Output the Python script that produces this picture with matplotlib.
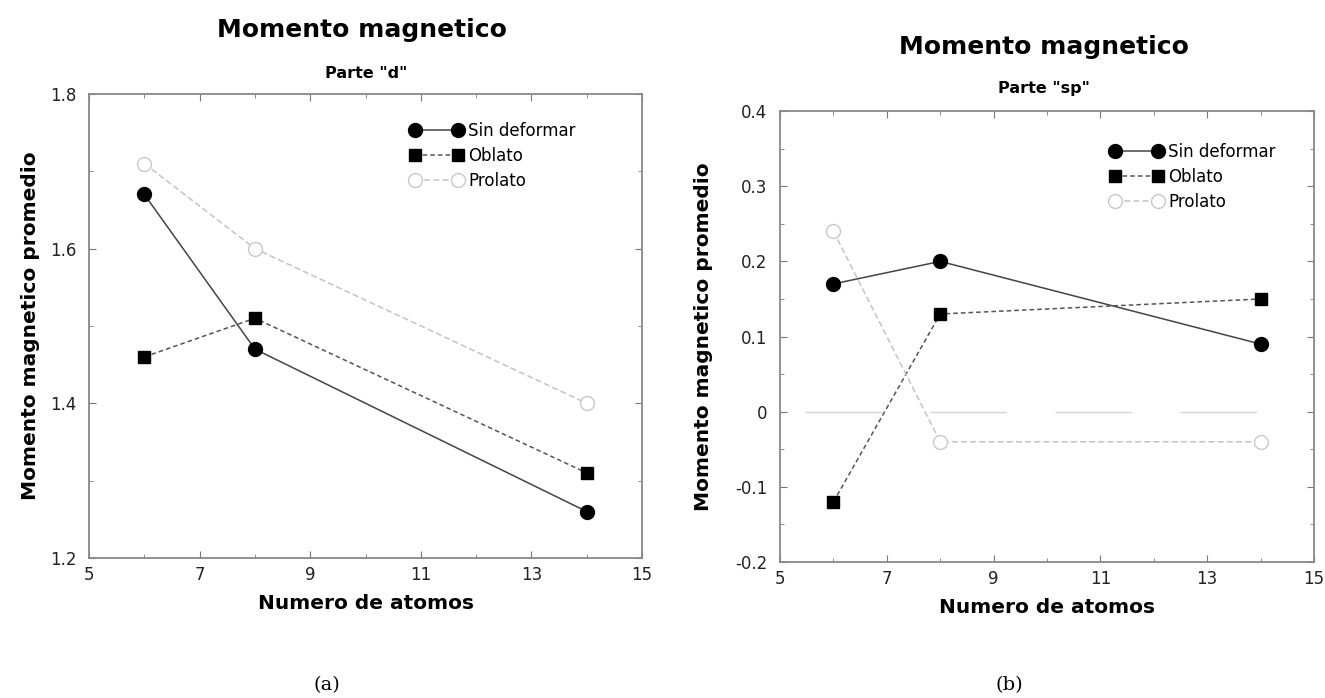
import numpy as np
import matplotlib
matplotlib.use("Agg")
from matplotlib import pyplot as plt
from matplotlib.ticker import FixedLocator

plt.rcParams['font.family'] = ['DejaVu Sans']

atoms = [6, 8, 14]
labels = ["Sin deformar", "Oblato", "Prolato"]
xticks_major = [5, 7, 9, 11, 13, 15]
xticks_minor = [6, 8, 10, 12, 14]

# parte "d"
d_sin = [1.67, 1.47, 1.26]
d_obl = [1.46, 1.51, 1.31]
d_pro = [1.71, 1.60, 1.40]

# parte "sp"
sp_sin = [0.17, 0.20, 0.09]
sp_obl = [-0.12, 0.13, 0.15]
sp_pro = [0.24, -0.04, -0.04]

fig = plt.figure(figsize=(13.25, 6.98), dpi=100)
ax1 = fig.add_axes([0.0672, 0.2006, 0.4174, 0.6648])
ax2 = fig.add_axes([0.5887, 0.1948, 0.4030, 0.6461])


def draw(ax, sin, obl, pro, leg_anchor, ypad):
    ax.plot(atoms, sin, color='#444444', lw=1.1, ls='-', marker='o', ms=10,
            mfc='black', mec='black', label=labels[0])
    ax.plot(atoms, obl, color='#555555', lw=1.1, ls=(0, (3, 2)), marker='s', ms=8,
            mfc='black', mec='black', label=labels[1])
    ax.plot(atoms, pro, color='#c4c4c4', lw=1.1, ls=(0, (4, 2)), marker='o', ms=10,
            mfc='white', mec='#c8c8c8', label=labels[2])
    ax.set_xlim(5, 15)
    ax.xaxis.set_major_locator(FixedLocator(xticks_major))
    ax.xaxis.set_minor_locator(FixedLocator(xticks_minor))
    ax.tick_params(which='both', direction='in', top=True, right=True, labelsize=12,
                   colors='#777777', labelcolor='#222222')
    ax.tick_params(axis='x', which='major', pad=6)
    ax.tick_params(axis='y', which='major', pad=9)
    ax.tick_params(which='major', length=5)
    ax.tick_params(which='minor', length=3)
    for s in ax.spines.values():
        s.set_color('#888888')
        s.set_linewidth(1.3)
    ax.set_xlabel("Numero de atomos", fontsize=14.5, fontweight='bold', labelpad=7)
    ax.set_ylabel("Momento magnetico promedio", fontsize=14.5, fontweight='bold', labelpad=ypad)
    ax.legend(loc='upper left', bbox_to_anchor=leg_anchor, numpoints=2, frameon=False,
              fontsize=12, handlelength=3.2, handletextpad=0.3, labelspacing=0.42,
              borderpad=0, borderaxespad=0)


draw(ax1, d_sin, d_obl, d_pro, (0.580, 0.94), 7)
ax1.set_ylim(1.2, 1.8)
ax1.yaxis.set_major_locator(FixedLocator([1.2, 1.4, 1.6, 1.8]))
ax1.yaxis.set_minor_locator(FixedLocator([1.3, 1.5, 1.7]))
ax1.yaxis.set_major_formatter(lambda v, p: f"{v:.1f}")

ax2.axhline(0, xmin=0.047, xmax=0.934, color='#d5d5d5', lw=1.0, ls=(0, (55, 35)), zorder=0)
draw(ax2, sp_sin, sp_obl, sp_pro, (0.618, 0.93), 16)
ax2.set_ylim(-0.2, 0.4)
ax2.yaxis.set_major_locator(FixedLocator([-0.2, -0.1, 0, 0.1, 0.2, 0.3, 0.4]))
ax2.yaxis.set_minor_locator(FixedLocator([-0.15, -0.05, 0.05, 0.15, 0.25, 0.35]))
ax2.yaxis.set_major_formatter(lambda v, p: "0" if abs(v) < 1e-9 else f"{v:.1f}")

fig.text(0.273, 1 - 30 / 698, "Momento magnetico", ha='center', va='center', fontsize=18, fontweight='bold')
fig.text(0.276, 1 - 73 / 698, 'Parte "d"', ha='center', va='center', fontsize=11.5, fontweight='bold')
fig.text(0.788, 1 - 47 / 698, "Momento magnetico", ha='center', va='center', fontsize=18, fontweight='bold')
fig.text(0.788, 1 - 89 / 698, 'Parte "sp"', ha='center', va='center', fontsize=11.5, fontweight='bold')

fig.text(0.247, 1 - 685 / 698, "(a)", ha='center', va='center', fontsize=14, family='DejaVu Serif')
fig.text(0.762, 1 - 685 / 698, "(b)", ha='center', va='center', fontsize=14, family='DejaVu Serif')

fig.savefig("out.png", dpi=100)
